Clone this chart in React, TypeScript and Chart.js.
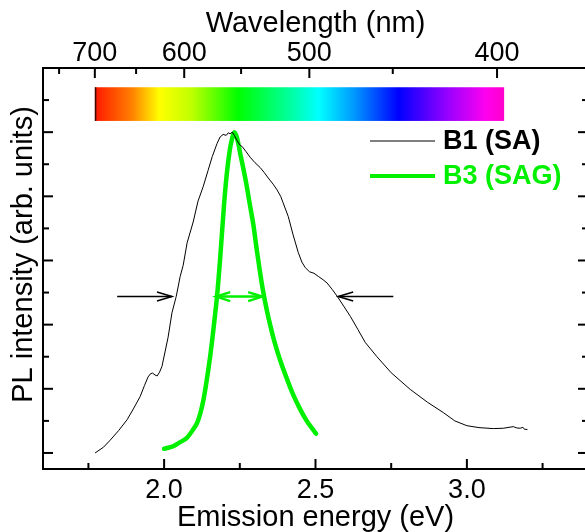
import React, { useEffect, useRef } from 'react';
import { Chart, registerables } from 'chart.js';

Chart.register(...registerables);

const HC = 1239.84; // eV*nm
const FONT = "'Liberation Sans', Arial, Helvetica, sans-serif";
const GREEN = '#00f000';

// ---- data ----
const b1Energy = [
  1.772, 1.8, 1.822, 1.85, 1.878, 1.9, 1.921, 1.935, 1.947, 1.955, 1.962, 1.97, 1.977, 1.985, 1.993,
  2.003, 2.013, 2.026, 2.04, 2.053, 2.063, 2.076, 2.096, 2.112, 2.129, 2.145, 2.159, 2.175, 2.185,
  2.195, 2.205, 2.212, 2.218, 2.225, 2.232, 2.24, 2.25, 2.258, 2.27, 2.284, 2.3, 2.317, 2.33, 2.344,
  2.36, 2.373, 2.385, 2.393, 2.41, 2.426, 2.443, 2.455, 2.466, 2.48, 2.495, 2.51, 2.525, 2.538, 2.555,
  2.572, 2.595, 2.615, 2.64, 2.664, 2.703, 2.75, 2.813, 2.87, 2.922, 2.96, 3.0, 3.04, 3.087, 3.12,
  3.153, 3.165, 3.176, 3.185, 3.19, 3.2,
];
const b1Intensity = [
  0.0, 0.018, 0.04, 0.07, 0.104, 0.14, 0.176, 0.21, 0.237, 0.247, 0.249, 0.243, 0.24, 0.252, 0.27,
  0.315, 0.36, 0.437, 0.488, 0.55, 0.585, 0.655, 0.72, 0.785, 0.83, 0.88, 0.924, 0.965, 0.985,
  0.993, 0.99, 0.998, 0.995, 1.0, 0.99, 0.975, 0.96, 0.955, 0.94, 0.922, 0.905, 0.89, 0.875, 0.857,
  0.838, 0.82, 0.8, 0.78, 0.737, 0.68, 0.625, 0.595, 0.578, 0.565, 0.56, 0.55, 0.54, 0.53, 0.51,
  0.488, 0.455, 0.426, 0.385, 0.345, 0.3, 0.25, 0.198, 0.158, 0.126, 0.1, 0.085, 0.079, 0.076, 0.077,
  0.082, 0.078, 0.077, 0.08, 0.074, 0.073,
];

const b3Energy = [
  2.0, 2.03, 2.05, 2.076, 2.095, 2.109, 2.12, 2.13, 2.138, 2.146, 2.152, 2.158, 2.167, 2.175, 2.185,
  2.198, 2.207, 2.217, 2.224, 2.232, 2.238, 2.245, 2.251, 2.262, 2.273, 2.284, 2.295, 2.305, 2.315,
  2.325, 2.337, 2.35, 2.365, 2.383, 2.4, 2.427, 2.45, 2.471, 2.49, 2.502,
];
const b3Intensity = [
  0.013, 0.021, 0.032, 0.048, 0.072, 0.094, 0.125, 0.166, 0.21, 0.26, 0.3, 0.345, 0.42, 0.49, 0.605,
  0.775, 0.87, 0.945, 0.978, 1.0, 0.99, 0.965, 0.935, 0.885, 0.831, 0.77, 0.71, 0.64, 0.575,
  0.515, 0.455, 0.4, 0.345, 0.29, 0.245, 0.18, 0.135, 0.1, 0.075, 0.06,
];

const seriesLabels = ['B1 (SA)', 'B3 (SAG)'];
const seriesColors = ['#000000', GREEN];
const seriesWidths = [1, 4.5];
const intensityTitle = 'PL intensity (arb. units)';

const energyTicks = [2.0, 2.5, 3.0];
const energyMinorTicks = [1.75, 2.25, 2.75, 3.25];
const wavelengthTicks = [700, 600, 500, 400];
const wavelengthMinorTicks = [750, 650, 550, 450];
const intensityMajorTicks = [0, 0.2, 0.4, 0.6, 0.8, 1.0];
const intensityMinorTicks = [0.1, 0.3, 0.5, 0.7, 0.9, 1.1];

// spectrum bar (wavelength range, intensity range) and colour stops
const spectrumWavelengths = [700, 397];
const spectrumLevels = [1.035, 1.14];
const spectrumStops = [0, 0.09, 0.158, 0.236, 0.35, 0.472, 0.547, 0.633, 0.742, 0.864, 0.956, 1.0];
const spectrumColors = [
  '#ff1800', '#ff8000', '#ffff00', '#c0ff00', '#00ff00', '#00ff99', '#00ffff', '#0099ff',
  '#0000ff', '#9900ff', '#ff00ee', '#ff00cc',
];

// FWHM arrows
const fwhmLevel = 0.4875;
const b1ArrowFrom = [1.845, 2.757];
const b1ArrowTo = [2.026, 2.575];
const b3ArrowEnds = [2.172, 2.324];

const decorPlugin = {
  id: 'decor',
  beforeDatasetsDraw(chart: any) {
    const ctx = chart.ctx;
    const xs = chart.scales.x;
    const ys = chart.scales.y;
    const x0 = xs.getPixelForValue(HC / spectrumWavelengths[0]);
    const x1 = xs.getPixelForValue(HC / spectrumWavelengths[1]);
    const yTop = ys.getPixelForValue(spectrumLevels[1]);
    const yBot = ys.getPixelForValue(spectrumLevels[0]);
    const g = ctx.createLinearGradient(x0, 0, x1, 0);
    spectrumStops.forEach((s, i) => g.addColorStop(s, spectrumColors[i]));
    ctx.save();
    ctx.fillStyle = g;
    ctx.fillRect(x0, yTop, x1 - x0, yBot - yTop);
    ctx.fillStyle = '#3a0a00';
    ctx.fillRect(x0, yTop, 1.5, yBot - yTop);
    ctx.restore();
  },
  afterDatasetsDraw(chart: any) {
    const ctx = chart.ctx;
    const { left, right, top, bottom } = chart.chartArea;
    const xs = chart.scales.x;
    const ys = chart.scales.y;
    ctx.save();
    ctx.strokeStyle = '#000';
    ctx.lineWidth = 2;
    ctx.strokeRect(left, top, right - left, bottom - top);

    const line = (ax: number, ay: number, bx: number, by: number) => {
      ctx.beginPath();
      ctx.moveTo(ax, ay);
      ctx.lineTo(bx, by);
      ctx.stroke();
    };
    const MAJ = 10;
    const MIN = 6;
    energyTicks.forEach((v) => { const p = xs.getPixelForValue(v); line(p, bottom, p, bottom - MAJ); });
    energyMinorTicks.forEach((v) => { const p = xs.getPixelForValue(v); line(p, bottom, p, bottom - MIN); });
    wavelengthTicks.forEach((w) => { const p = xs.getPixelForValue(HC / w); line(p, top, p, top + MAJ); });
    wavelengthMinorTicks.forEach((w) => { const p = xs.getPixelForValue(HC / w); line(p, top, p, top + MIN); });
    intensityMajorTicks.forEach((v) => {
      const p = ys.getPixelForValue(v);
      line(left, p, left + MAJ, p);
      line(right, p, right - MAJ, p);
    });
    intensityMinorTicks.forEach((v) => {
      const p = ys.getPixelForValue(v);
      line(left, p, left + MIN, p);
      line(right, p, right - MIN, p);
    });

    // arrows
    const yA = ys.getPixelForValue(fwhmLevel);
    const head = (tipX: number, dir: number, len: number, half: number) => {
      ctx.beginPath();
      ctx.moveTo(tipX - dir * len, yA - half);
      ctx.lineTo(tipX, yA);
      ctx.lineTo(tipX - dir * len, yA + half);
      ctx.stroke();
    };
    ctx.strokeStyle = '#000';
    ctx.lineWidth = 1.5;
    b1ArrowFrom.forEach((f, i) => {
      const a = xs.getPixelForValue(f);
      const b = xs.getPixelForValue(b1ArrowTo[i]);
      line(a, yA, b, yA);
      head(b, Math.sign(b - a), 15, 4.5);
    });
    ctx.strokeStyle = GREEN;
    ctx.lineWidth = 2.5;
    const ga = xs.getPixelForValue(b3ArrowEnds[0]);
    const gb = xs.getPixelForValue(b3ArrowEnds[1]);
    line(ga, yA, gb, yA);
    head(ga, -1, 14, 4.5);
    head(gb, 1, 14, 4.5);

    // legend
    const lx0 = right - 218;
    const lx1 = right - 153;
    const tx = right - 145;
    const ly = [top + 73, top + 108];
    ctx.font = `bold 27px ${FONT}`;
    ctx.textBaseline = 'middle';
    ctx.textAlign = 'left';
    seriesLabels.forEach((lab, i) => {
      ctx.strokeStyle = i === 0 ? '#555' : seriesColors[i];
      ctx.lineWidth = i === 0 ? 1.5 : 4;
      line(lx0, ly[i], lx1, ly[i]);
      ctx.fillStyle = seriesColors[i];
      ctx.fillText(lab, tx, ly[i] + 1);
    });

    // y-axis title (placed slightly above the plot centre, as in the figure)
    ctx.fillStyle = '#000';
    ctx.font = `29px ${FONT}`;
    ctx.textAlign = 'center';
    ctx.textBaseline = 'middle';
    ctx.translate(23.5, (top + bottom) / 2 - 14);
    ctx.rotate(-Math.PI / 2);
    ctx.fillText(intensityTitle, 0, 0);
    ctx.restore();
  },
};

export default function App() {
  const ref = useRef<HTMLCanvasElement>(null);
  useEffect(() => {
    if (!ref.current) return;
    const chart = new Chart(ref.current, {
      type: 'scatter',
      data: {
        datasets: [
          {
            label: seriesLabels[0],
            data: b1Energy.map((x, i) => ({ x, y: b1Intensity[i] })),
            borderColor: seriesColors[0],
            borderWidth: seriesWidths[0],
            showLine: true,
            pointRadius: 0,
            tension: 0,
          },
          {
            label: seriesLabels[1],
            data: b3Energy.map((x, i) => ({ x, y: b3Intensity[i] })),
            borderColor: seriesColors[1],
            borderWidth: seriesWidths[1],
            showLine: true,
            pointRadius: 0,
            cubicInterpolationMode: 'monotone',
            borderCapStyle: 'round',
            borderJoinStyle: 'round',
          },
        ],
      },
      options: {
        animation: false,
        responsive: false,
        devicePixelRatio: 1,
        layout: { padding: { left: 0, right: 12, top: 0, bottom: 0 } },
        plugins: { legend: { display: false }, tooltip: { enabled: false } },
        scales: {
          x: {
            type: 'linear',
            position: 'bottom',
            min: 1.6,
            max: 3.4,
            grid: { display: false, drawTicks: false },
            border: { display: false },
            afterBuildTicks: (s: any) => { s.ticks = energyTicks.map((v) => ({ value: v })); },
            afterFit: (s: any) => { s.height = 63; },
            ticks: {
              color: '#000',
              padding: 8,
              maxRotation: 0,
              font: { family: FONT, size: 27, lineHeight: 1 },
              callback: (v: any) => Number(v).toFixed(1),
            },
            title: {
              display: true,
              text: 'Emission energy (eV)',
              color: '#000',
              padding: 0,
              font: { family: FONT, size: 29, lineHeight: 1 },
            },
          },
          x2: {
            type: 'linear',
            position: 'top',
            min: 1.6,
            max: 3.4,
            grid: { display: false, drawTicks: false },
            border: { display: false },
            afterBuildTicks: (s: any) => { s.ticks = wavelengthTicks.map((w) => ({ value: HC / w })); },
            afterFit: (s: any) => { s.height = 68; },
            ticks: {
              color: '#000',
              padding: 1,
              maxRotation: 0,
              autoSkip: false,
              font: { family: FONT, size: 27, lineHeight: 1 },
              callback: (v: any) => String(Math.round(HC / Number(v))),
            },
            title: {
              display: true,
              text: 'Wavelength (nm)',
              color: '#000',
              padding: { top: 9, bottom: 0 },
              font: { family: FONT, size: 29, lineHeight: 1 },
            },
          },
          y: {
            type: 'linear',
            position: 'left',
            min: -0.05,
            max: 1.2,
            grid: { display: false, drawTicks: false },
            border: { display: false },
            afterFit: (s: any) => { s.width = 43; },
            ticks: { display: false },
            title: { display: false },
          },
        },
      } as any,
      plugins: [decorPlugin],
    });
    return () => chart.destroy();
  }, []);

  return (
    <div style={{ position: 'fixed', left: 0, top: 0, width: 585, height: 532, overflow: 'hidden', background: '#fff' }}>
      <canvas ref={ref} width={600} height={532} style={{ display: 'block' }} />
    </div>
  );
}
